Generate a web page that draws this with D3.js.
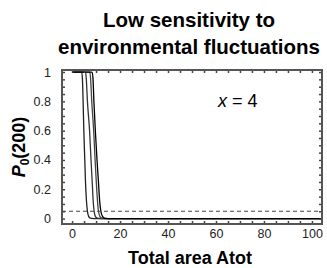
<!DOCTYPE html>
<html><head><meta charset="utf-8">
<script src="https://cdn.jsdelivr.net/npm/d3@7"></script>
<style>body{margin:0;background:#fff}svg{display:block}</style>
</head><body>
<svg id="c" width="327" height="268"></svg>
<script>
const titleLines = ["Low sensitivity to", "environmental fluctuations"];
const xLabel = "Total area Atot";
const xTicks = [0, 20, 40, 60, 80, 100];
const yTicks = [0, 0.2, 0.4, 0.6, 0.8, 1];
const yTickLabels = ["0", "0.2", "0.4", "0.6", "0.8", "1"];
const threshold = 0.05;
const annotation = "x = 4";
// curves: area vs P0(200)
const curveA = [[0.5,1],[4.0,1],[4.3,0.96],[4.6,0.8],[4.9,0.6],[5.3,0.4],[5.6,0.25],[6.0,0.12],[6.4,0.05],[6.9,0.015],[7.6,0.003],[9,0],[104,0]];
const curveB = [[0.5,1],[5.6,1],[5.9,0.96],[6.4,0.8],[7.3,0.6],[7.9,0.4],[8.4,0.25],[8.8,0.12],[9.2,0.05],[9.7,0.015],[10.5,0.003],[12,0],[104,0]];
const curveC = [[0.5,1],[7.4,1],[7.7,0.96],[8.2,0.8],[9.0,0.6],[9.6,0.4],[10.1,0.25],[10.6,0.12],[11.0,0.05],[11.6,0.015],[12.4,0.003],[14,0],[104,0]];
const curveD = [[0.5,1],[8.3,1],[8.7,0.96],[9.1,0.8],[9.7,0.6],[10.4,0.4],[11.0,0.25],[11.5,0.12],[12.0,0.05],[12.7,0.015],[13.5,0.003],[15,0],[104,0]];
const curves = [curveA, curveB, curveC, curveD];
const curveColors = ["#222", "#333", "#444", "#000"];

const svg = d3.select("#c");
const L = 62, R = 322, T = 70, B = 224;
const x = d3.scaleLinear().domain([-4.2, 104.2]).range([L, R]);
const y = d3.scaleLinear().domain([-0.037, 1.014]).range([B, T]);

const font = "Arial, 'Liberation Sans', sans-serif";

// title
svg.append("g").selectAll("text").data(titleLines).join("text")
  .attr("x", 189).attr("y", (d, i) => 27 + i * 27)
  .attr("text-anchor", "middle").attr("font-family", font)
  .attr("font-weight", "bold").attr("font-size", 20.5).attr("fill", "#000")
  .text(d => d);

// curves
const line = d3.line().x(d => x(d[0])).y(d => y(d[1])).curve(d3.curveMonotoneX);
svg.append("g").selectAll("path").data(curves).join("path")
  .attr("d", line).attr("fill", "none")
  .attr("stroke", (d, i) => curveColors[i]).attr("stroke-width", 1.3);

// threshold
svg.append("line").attr("x1", L).attr("x2", R)
  .attr("y1", y(threshold)).attr("y2", y(threshold))
  .attr("stroke", "#444").attr("stroke-width", 1).attr("stroke-dasharray", "4,3");

// axes (ticks inward on all sides)
const minorX = d3.range(0, 101, 5);
const minorY = d3.range(0, 1.001, 0.05);
const axG = svg.append("g");
axG.append("g").attr("transform", `translate(0,${B})`)
  .call(d3.axisTop(x).tickValues(minorX).tickSize(3).tickFormat(""))
  .call(g => g.select(".domain").remove());
axG.append("g").attr("transform", `translate(0,${T})`)
  .call(d3.axisBottom(x).tickValues(minorX).tickSize(3).tickFormat(""))
  .call(g => g.select(".domain").remove());
axG.append("g").attr("transform", `translate(${L},0)`)
  .call(d3.axisRight(y).tickValues(minorY).tickSize(3).tickFormat(""))
  .call(g => g.select(".domain").remove());
axG.append("g").attr("transform", `translate(${R},0)`)
  .call(d3.axisLeft(y).tickValues(minorY).tickSize(3).tickFormat(""))
  .call(g => g.select(".domain").remove());
axG.selectAll(".tick line").attr("stroke", "#444").attr("stroke-width", 1.5);

// tick labels
const xl = svg.append("g").attr("transform", `translate(0,${B})`)
  .call(d3.axisBottom(x).tickValues(xTicks).tickSize(0).tickPadding(5).tickFormat(d3.format("d")));
xl.select(".domain").remove();
xl.selectAll("text").attr("font-family", font).attr("font-size", 12.5).attr("fill", "#222");
const yl = svg.append("g").attr("transform", `translate(${L},0)`)
  .call(d3.axisLeft(y).tickValues(yTicks).tickSize(0).tickPadding(11).tickFormat((d, i) => yTickLabels[i]));
yl.select(".domain").remove();
yl.selectAll("text").attr("font-family", font).attr("font-size", 12.5).attr("fill", "#222");

// frame
svg.append("rect").attr("x", L).attr("y", T).attr("width", R - L).attr("height", B - T)
  .attr("fill", "none").attr("stroke", "#555").attr("stroke-width", 2);

// axis titles
svg.append("text").attr("x", 190).attr("y", 264).attr("text-anchor", "middle")
  .attr("font-family", font).attr("font-weight", "bold").attr("font-size", 18)
  .text(xLabel);
const yt = svg.append("text").attr("transform", "translate(25,147) rotate(-90)")
  .attr("text-anchor", "middle").attr("font-family", font).attr("font-weight", "bold").attr("font-size", 18);
yt.append("tspan").attr("font-style", "italic").text("P");
yt.append("tspan").attr("font-size", 12).attr("dy", 4).text("0");
yt.append("tspan").attr("dy", -4).text("(200)");

// annotation
const an = svg.append("text").attr("x", 218).attr("y", 107)
  .attr("font-family", font).attr("font-size", 18);
an.append("tspan").attr("font-style", "italic").text("x");
an.append("tspan").text(" = 4");
</script>
</body></html>
